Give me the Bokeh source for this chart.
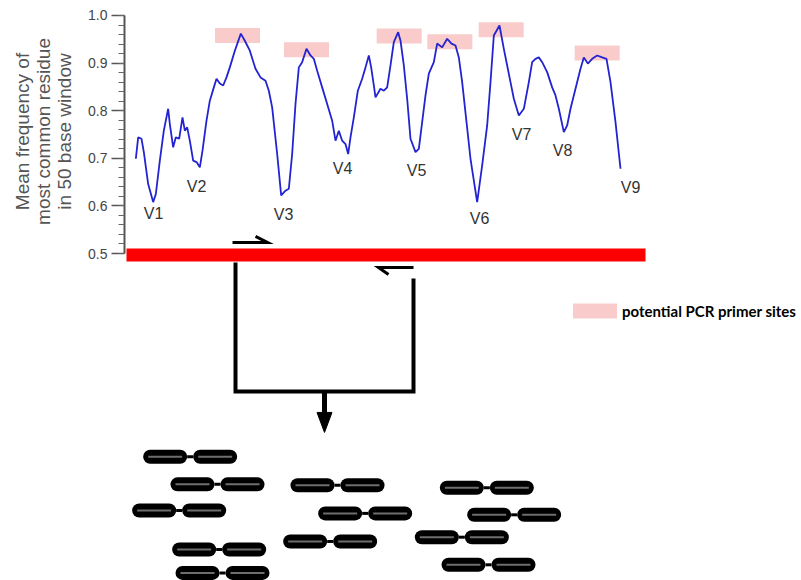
from bokeh.plotting import figure
from bokeh.layouts import column
from bokeh.models import Range1d, FixedTicker, PrintfTickFormatter, Legend, LegendItem
from bokeh.core.properties import value
from bokeh.embed import file_html
from bokeh.resources import INLINE

# ---------------- data ----------------
# position along the 16S gene (bp) and mean frequency of the most common residue
position_bp = [28, 35, 45, 52, 65, 80, 88, 100, 112, 125, 130, 140, 148, 158, 168, 175, 182, 190,
               200, 210, 220, 228, 240, 250, 262, 270, 280, 290, 300, 310, 325, 343, 355, 370,
               387, 402, 417, 427, 437, 452, 464, 477, 487, 497, 507, 517, 527, 540, 552, 562,
               572, 587, 602, 617, 627, 637, 647, 657, 665, 672, 682, 694, 707, 717, 727, 734,
               742, 747, 762, 772, 782, 792, 802, 815, 822, 832, 842, 852, 867, 877, 887, 897,
               907, 922, 932, 947, 962, 975, 987, 997, 1007, 1019, 1032, 1052, 1067, 1082, 1092,
               1102, 1119, 1132, 1142, 1152, 1162, 1177, 1192, 1207, 1217, 1227, 1237, 1247,
               1262, 1277, 1287, 1297, 1312, 1322, 1332, 1347, 1362, 1372, 1384, 1397, 1412,
               1427, 1440, 1452, 1467, 1482]
mean_freq = [0.699, 0.744, 0.741, 0.713, 0.646, 0.608, 0.625, 0.695, 0.758, 0.804, 0.772, 0.723,
             0.744, 0.741, 0.786, 0.758, 0.765, 0.737, 0.695, 0.692, 0.681, 0.716, 0.779, 0.821,
             0.849, 0.867, 0.857, 0.853, 0.870, 0.891, 0.926, 0.962, 0.947, 0.926, 0.888, 0.870,
             0.863, 0.842, 0.807, 0.709, 0.622, 0.632, 0.636, 0.709, 0.814, 0.891, 0.902, 0.930,
             0.916, 0.909, 0.884, 0.849, 0.814, 0.779, 0.737, 0.758, 0.737, 0.730, 0.709, 0.744,
             0.786, 0.842, 0.867, 0.891, 0.916, 0.891, 0.853, 0.828, 0.846, 0.842, 0.849, 0.895,
             0.944, 0.965, 0.947, 0.895, 0.825, 0.741, 0.713, 0.720, 0.776, 0.832, 0.878, 0.902,
             0.941, 0.933, 0.951, 0.941, 0.937, 0.912, 0.860, 0.783, 0.699, 0.608, 0.685, 0.769,
             0.860, 0.958, 0.979, 0.930, 0.895, 0.860, 0.825, 0.790, 0.804, 0.860, 0.902, 0.909,
             0.912, 0.902, 0.881, 0.849, 0.832, 0.804, 0.755, 0.769, 0.804, 0.846, 0.888, 0.912,
             0.899, 0.909, 0.916, 0.912, 0.909, 0.860, 0.776, 0.678]

region_labels = ["V1", "V2", "V3", "V4", "V5", "V6", "V7", "V8", "V9"]
region_label_x = [81, 210, 471, 648, 870, 1059, 1185, 1308, 1512]
region_label_y = [0.584, 0.640, 0.582, 0.679, 0.674, 0.573, 0.750, 0.716, 0.639]

primer_site_x = [333, 540, 818, 970, 1124, 1412]
primer_site_y = [0.958, 0.928, 0.957, 0.945, 0.970, 0.921]

gene_start, gene_end = 0, 1557
forward_primer = [318, 423]
reverse_primer = [756, 861]

read_start = [50, 132, 17, 137, 147, 492, 575, 470, 940, 1022, 865, 945]
read_row = [0.073, 0.015, -0.040, -0.122, -0.171, 0.013, -0.046, -0.105, 0.008, -0.049, -0.096, -0.154]

y_ticks = [0.5, 0.6, 0.7, 0.8, 0.9, 1.0]
y_minor_ticks = [0.5 + 0.02 * i for i in range(26)]

# ---------------- layout constants ----------------
BP = 3.0            # bp per screen pixel
VU = 0.1 / 47.6     # frequency units per screen pixel
SPLIT = 0.4811      # frequency level where the upper panel ends

xr = Range1d(-6, 2025)
common = dict(width=801, output_backend="svg", toolbar_location=None, x_range=xr,
              x_axis_location=None, min_border_left=124, min_border_right=0,
              min_border_top=0, min_border_bottom=0, outline_line_color=None,
              background_fill_color="white", border_fill_color="white")

top = figure(height=262, y_range=Range1d(SPLIT, 1.0315), **common)
bot = figure(height=318, y_range=Range1d(-0.187, SPLIT), y_axis_location=None, **common)
for f in (top, bot):
    f.grid.visible = False

# y axis
ax = top.yaxis[0]
ax.ticker = FixedTicker(ticks=y_ticks, minor_ticks=y_minor_ticks)
ax.formatter = PrintfTickFormatter(format="%.1f")
ax.bounds = (0.5, 1.0)
ax.axis_label = "Mean frequency of\nmost common residue\nin 50 base window"
ax.axis_label_text_font = "Liberation Sans"
ax.axis_label_text_font_size = "19px"
ax.axis_label_text_line_height = 1.0
ax.axis_label_text_font_style = "normal"
ax.axis_label_text_color = "#555555"
ax.axis_label_standoff = 10
ax.major_label_text_font = "Liberation Sans"
ax.major_label_text_font_size = "14px"
ax.major_label_text_color = "#444444"
ax.major_label_standoff = 4
ax.axis_line_color = "#555555"
ax.axis_line_width = 2
ax.major_tick_line_color = "#555555"
ax.major_tick_line_width = 1.5
ax.major_tick_out = 13
ax.major_tick_in = 0
ax.minor_tick_line_color = "#666666"
ax.minor_tick_line_width = 1
ax.minor_tick_out = 6
ax.minor_tick_in = 0

# primer sites
pw, ph = 45 * BP, 15 * VU
primer_box = dict(left=[x - pw / 2 for x in primer_site_x], right=[x + pw / 2 for x in primer_site_x],
                  bottom=[y - ph / 2 for y in primer_site_y], top=[y + ph / 2 for y in primer_site_y],
                  fill_color="#f9cbcb", line_color=None)
top.quad(**primer_box)
# same boxes in the lower panel (outside its range) so the legend there can show their swatch
primer_r = bot.quad(**primer_box)

# conservation curve
top.line(position_bp, mean_freq, line_color="#2323d2", line_width=1.8)

# region labels
top.text(region_label_x, region_label_y, text=region_labels, text_font=value("Liberation Sans"),
         text_font_size="16px", text_color="#333333", text_align="center", text_baseline="middle")

# gene bar
bar_h = 13 * VU
top.quad(left=[gene_start], right=[gene_end], bottom=[0.497 - bar_h / 2], top=[0.497 + bar_h / 2],
         fill_color="#ff0000", line_color=None)

# primer arrows
fy = 0.497 + bar_h / 2 + 6 * VU
ry = 0.497 - bar_h / 2 - 6 * VU
top.multi_line(xs=[[forward_primer[0], forward_primer[1], forward_primer[1] - 12 * BP]],
               ys=[[fy, fy, fy + 6 * VU]], line_color="black", line_width=3, line_join="miter")
bot.multi_line(xs=[[reverse_primer[1], reverse_primer[0], reverse_primer[0] + 10 * BP]],
               ys=[[ry, ry, ry - 7 * VU]], line_color="black", line_width=3, line_join="miter")

# amplicon bracket
left_x = forward_primer[0] + 3 * BP
right_x = reverse_primer[1]
bot_y = 0.497 - bar_h / 2 - 130 * VU
bot.multi_line(xs=[[left_x, left_x, right_x, right_x]],
               ys=[[SPLIT + 2 * VU, bot_y, bot_y, ry - 11 * VU]],
               line_color="black", line_width=4, line_join="miter")
mid_x = (left_x + right_x) / 2
bot.segment(x0=[mid_x], y0=[bot_y], x1=[mid_x], y1=[bot_y - 22 * VU], line_color="black", line_width=5)
bot.patch(x=[mid_x - 7.5 * BP, mid_x + 7.5 * BP, mid_x],
          y=[bot_y - 21 * VU, bot_y - 21 * VU, bot_y - 41 * VU], fill_color="black", line_color="black")

# sequencing reads (paired capsules)
cap, gap, rad, ins = 44 * BP, 6 * BP, 7 * BP, 5 * BP
c0, c1, cy = [], [], []
k0, k1, ky = [], [], []
g0, g1, gy = [], [], []
for L, y in zip(read_start, read_row):
    for off in (0, cap + gap):
        c0.append(L + off + rad); c1.append(L + off + cap - rad); cy.append(y)
        g0.append(L + off + ins); g1.append(L + off + cap - ins); gy.append(y)
    k0.append(L + cap); k1.append(L + cap + gap); ky.append(y)
bot.segment(x0=k0, y0=ky, x1=k1, y1=ky, line_color="black", line_width=3)
bot.segment(x0=c0, y0=cy, x1=c1, y1=cy, line_color="black", line_width=14, line_cap="round")
bot.segment(x0=g0, y0=gy, x1=g1, y1=gy, line_color="#6e6e6e", line_width=2)

# legend (for the primer-site boxes)
legend = Legend(items=[LegendItem(label="potential PCR primer sites", renderers=[primer_r])],
                location=(443, 260), padding=0, margin=0, spacing=0,
                glyph_width=55, glyph_height=19, label_height=19, label_standoff=0,
                border_line_color=None, background_fill_alpha=0,
                label_text_font="Lato", label_text_font_style="bold",
                label_text_font_size="15px", label_text_color="black")
bot.add_layout(legend)

layout = column(top, bot, spacing=0)
open("out.html", "w").write(file_html(layout, INLINE))
